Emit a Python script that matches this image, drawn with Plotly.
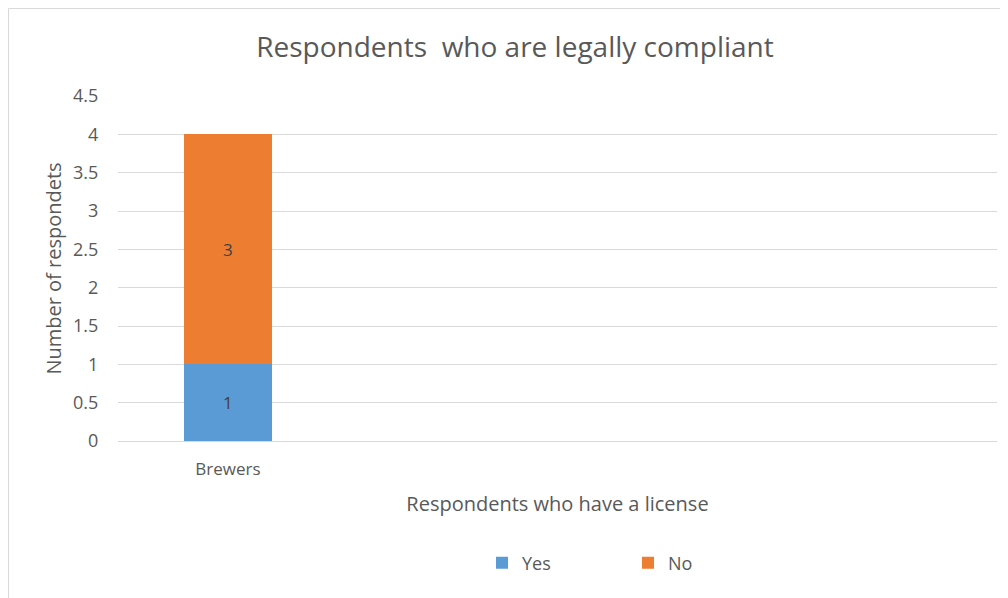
import plotly.graph_objects as go

categories = ["Brewers"]
yes_values = [1]
no_values = [3]
series_names = ["Yes", "No"]
colors = ["#5B9BD5", "#ED7D31"]

FONT = "Open Sans"
GRAY = "#595959"

fig = go.Figure()
for name, vals, col in zip(series_names, [yes_values, no_values], colors):
    fig.add_trace(go.Bar(
        x=list(range(len(categories))), y=vals, name=name,
        marker=dict(color=col, line=dict(width=0)),
        text=[str(v) for v in vals], textposition="inside",
        insidetextanchor="middle",
        textfont=dict(family=FONT, size=17, color="#404040"),
        width=0.4,
    ))

# page has an 8px body margin; the layout is offset to compensate
OFF = 8
PW, PH = 879, 345
L, T = 118 - OFF, 96 - OFF
fig.update_layout(
    template="none",
    width=1008, height=598,
    barmode="stack",
    paper_bgcolor="white", plot_bgcolor="white",
    margin=dict(l=L, r=1008 - L - PW, t=T, b=598 - T - PH, autoexpand=False),
    title=dict(text="Respondents  who are legally compliant", x=(515 - OFF)/1008, xanchor="center",
               xref="container", y=1-(47 - OFF)/598, yanchor="middle", yref="container",
               font=dict(family=FONT, size=28, color=GRAY)),
    xaxis=dict(range=[-0.5, 3.5], tickvals=list(range(len(categories))), ticktext=categories,
               showgrid=False, zeroline=False, showline=False, automargin=False,
               tickfont=dict(family=FONT, size=17, color=GRAY),
               ticks="outside", ticklen=13, tickcolor="rgba(0,0,0,0)",
               title=dict(text="Respondents who have a license", standoff=17,
                          font=dict(family=FONT, size=20, color=GRAY))),
    yaxis=dict(range=[0, 4.5], dtick=0.5, tickformat="~g", automargin=False,
               showgrid=True, gridcolor="#D9D9D9", gridwidth=1,
               zeroline=True, zerolinecolor="#D9D9D9", zerolinewidth=1,
               tickfont=dict(family=FONT, size=18, color=GRAY),
               ticks="outside", ticklen=15, tickcolor="rgba(0,0,0,0)",
               title=dict(text="Number of respondets", standoff=6,
                          font=dict(family=FONT, size=20, color=GRAY))),
    legend=dict(orientation="h", x=(482-118)/PW, xref="paper", xanchor="left",
                y=(441-563)/PH, yanchor="middle", entrywidth=101, entrywidthmode="pixels",
                font=dict(family=FONT, size=18, color=GRAY), traceorder="normal",
                itemwidth=30, bgcolor="rgba(0,0,0,0)"),
    shapes=[dict(type="rect", xref="paper", yref="paper",
                 x0=(0.5 - L)/PW, x1=(1030-118)/PW, y0=(441-620)/PH, y1=1 + (T - 0.5)/PH,
                 line=dict(color="#D9D9D9", width=1), fillcolor="rgba(0,0,0,0)", layer="below")],
    showlegend=True,
)

fig.write_html("out.html")
